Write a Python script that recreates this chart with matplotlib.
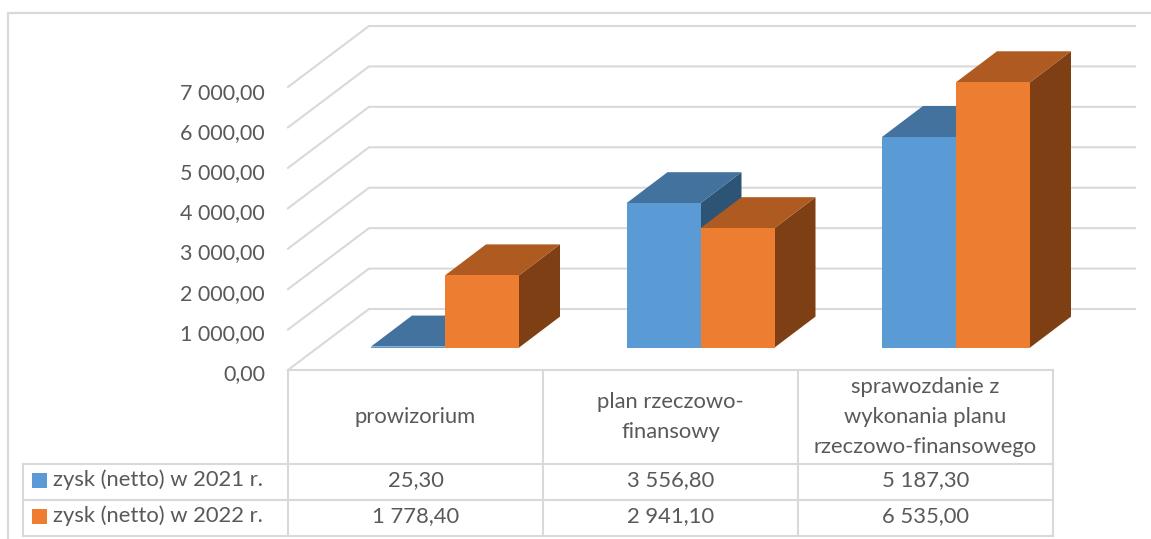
"""
Zysk netto 2021 / 2022 - pseudo 3D column chart with data table underneath
"""

import matplotlib
matplotlib.use('Agg')
import matplotlib.pyplot as plt
from matplotlib.patches import Polygon, Rectangle

plt.rcParams['font.family'] = ['Lato', 'DejaVu Sans']

# ── Data ──────────────────────────────────────────────────────────────
categories = ['prowizorium', 'plan rzeczowo-\nfinansowy',
              'sprawozdanie z\nwykonania planu\nrzeczowo-finansowego']
series_names = ['zysk (netto) w 2021 r.', 'zysk (netto) w 2022 r.']
zysk_2021 = [25.30, 3556.80, 5187.30]
zysk_2022 = [1778.40, 2941.10, 6535.00]
labels_2021 = ['25,30', '3 556,80', '5 187,30']
labels_2022 = ['1 778,40', '2 941,10', '6 535,00']
tick_values = [0, 1000, 2000, 3000, 4000, 5000, 6000, 7000]
tick_labels = ['0,00', '1 000,00', '2 000,00', '3 000,00',
               '4 000,00', '5 000,00', '6 000,00', '7 000,00']

# ── Colors ────────────────────────────────────────────────────────────
GRID = '#D9D9D9'
TEXT = '#595959'
BLUE = ('#5B9BD5', '#43729F', '#2E5475')    # front, top, side
ORANGE = ('#ED7D31', '#AF5A20', '#7E3F14')

W, H = 1151, 539
fig = plt.figure(figsize=(W / 100, H / 100), dpi=100, facecolor='white')

# background axes in pixels: walls, table, text
bg = fig.add_axes([0, 0, 1, 1], zorder=0)
bg.set_xlim(0, W)
bg.set_ylim(H, 0)
bg.axis('off')

# chart axes: x in category units, y in value units
PX_PER_VALUE = 0.0406
PX_PER_CAT = 255.5
BASE_Y = 347.6
CAT0_X = 445.0
ax = fig.add_axes([0, 0, 1, 1], zorder=1)
ax.patch.set_alpha(0)
ax.set_xlim(-CAT0_X / PX_PER_CAT, (W - CAT0_X) / PX_PER_CAT)
ax.set_ylim((BASE_Y - H) / PX_PER_VALUE, BASE_Y / PX_PER_VALUE)
ax.axis('off')


def line(xs, ys, lw=1.5):
    bg.plot(xs, ys, color=GRID, lw=lw, solid_capstyle='projecting', zorder=1)


# ── Outer border ──────────────────────────────────────────────────────
line([8.5, 8.5, W], [H, 12.5, 12.5], lw=1.6)

# ── Walls: one line per tick ──────────────────────────────────────────
FRONT_X, BACK_X, RIGHT_X = 288, 369, 1135
FRONT_Y0, BACK_Y0, STEP = 370, 309, 40.43
for v, lab in zip(tick_values, tick_labels):
    dy = v / 1000 * STEP
    line([FRONT_X, BACK_X, RIGHT_X], [FRONT_Y0 - dy, BACK_Y0 - dy, BACK_Y0 - dy])
    bg.text(265, 374 - v / 1000 * 40.2, lab, ha='right', va='center',
            fontsize=15.5, color=TEXT)

# ── Bars ──────────────────────────────────────────────────────────────
BAR_W = 74 / PX_PER_CAT
DEPTH_X = 41 / PX_PER_CAT
DEPTH_Y = 31 / PX_PER_VALUE


def bar3d(x, value, cols):
    left, right = x, x + BAR_W
    ax.add_patch(Polygon([(right, 0), (right + DEPTH_X, DEPTH_Y),
                          (right + DEPTH_X, value + DEPTH_Y), (right, value)],
                         facecolor=cols[2], lw=0))
    ax.add_patch(Polygon([(left, value), (left + DEPTH_X, value + DEPTH_Y),
                          (right + DEPTH_X, value + DEPTH_Y), (right, value)],
                         facecolor=cols[1], lw=0))
    ax.bar(left, value, width=BAR_W, align='edge', color=cols[0], lw=0)


for i in range(len(categories)):
    bar3d(i - BAR_W, zysk_2021[i], BLUE)
    bar3d(i, zysk_2022[i], ORANGE)

# ── Data table ────────────────────────────────────────────────────────
col_x = [288, 543, 798, 1053]
row_y = [370, 464, 500, 536]
LEFT_X = 23

for x in col_x:
    line([x, x], [row_y[0], row_y[-1]])
line([LEFT_X, LEFT_X], [row_y[1], row_y[-1]])
line([col_x[0], col_x[-1]], [row_y[0], row_y[0]])
for y in row_y[1:]:
    line([LEFT_X, col_x[-1]], [y, y])

for i, cat in enumerate(categories):
    xc = (col_x[i] + col_x[i + 1]) / 2
    bg.text(xc, (row_y[0] + row_y[1]) / 2, cat, ha='center', va='center',
            fontsize=15.8, color=TEXT, linespacing=1.6)
    bg.text(xc, (row_y[1] + row_y[2]) / 2 - 2, labels_2021[i], ha='center',
            va='center', fontsize=15.8, color=TEXT)
    bg.text(xc, (row_y[2] + row_y[3]) / 2 - 2, labels_2022[i], ha='center',
            va='center', fontsize=15.8, color=TEXT)

for k, (name, cols) in enumerate(zip(series_names, (BLUE, ORANGE))):
    ymid = (row_y[k + 1] + row_y[k + 2]) / 2
    bg.add_patch(Rectangle((32, ymid - 9), 15, 15, facecolor=cols[0], lw=0, zorder=2))
    bg.text(53, ymid - 2, name, ha='left', va='center', fontsize=15.8, color=TEXT)

fig.savefig('out.png', dpi=100)
